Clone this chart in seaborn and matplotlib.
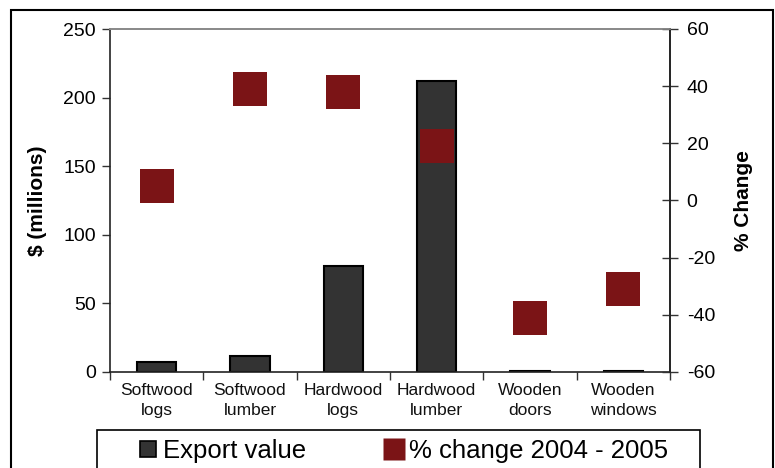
import numpy as np
import pandas as pd
import matplotlib
matplotlib.use("Agg")
import matplotlib.pyplot as plt
from matplotlib.lines import Line2D
from matplotlib.patches import Rectangle
from matplotlib.ticker import FixedLocator, NullFormatter
import seaborn as sns

categories = ["Softwood\nlogs", "Softwood\nlumber", "Hardwood\nlogs",
              "Hardwood\nlumber", "Wooden\ndoors", "Wooden\nwindows"]
export_value = [7.5, 12, 77, 212, 1, 1]
pct_change = [5, 39, 38, 19, -41, -31]
left_ticks = [0, 50, 100, 150, 200, 250]
right_ticks = [-60, -40, -20, 0, 20, 40, 60]

sns.set_theme(style="white")
plt.rcParams["font.family"] = ["Liberation Sans", "DejaVu Sans"]
plt.rcParams["axes.unicode_minus"] = False
plt.rcParams["text.color"] = "black"
plt.rcParams["axes.labelcolor"] = "black"
plt.rcParams["xtick.color"] = "black"
plt.rcParams["ytick.color"] = "black"

BAR = "#333333"
RED = "#7B1416"

df = pd.DataFrame({"cat": categories, "val": export_value, "pct": pct_change})
df["pos"] = np.arange(len(df))

fig = plt.figure(figsize=(7.75, 4.68), dpi=100)
ax = fig.add_axes([110/775, 1-372/468, 560/775, 343/468])

sns.barplot(data=df, x="cat", y="val", color=BAR, width=0.42, edgecolor="black",
            linewidth=1.5, saturation=1, ax=ax, zorder=2)
ax.set_ylim(0, 250)
ax.set_xlim(-0.5, len(categories) - 0.5)
ax.set_yticks(left_ticks)
ax.tick_params(axis="y", labelsize=14, length=6, width=1, direction="out",
               left=True, color="#333333", labelcolor="black", pad=4)
ax.set_xlabel("")
ax.set_ylabel("$ (millions)", fontsize=15, fontweight="bold", labelpad=12)
ax.tick_params(axis="x", which="major", length=0, labelsize=12.5, pad=8,
               labelcolor="#111111")
ax.xaxis.set_minor_locator(FixedLocator(np.arange(-0.5, len(categories), 1.0)))
ax.xaxis.set_minor_formatter(NullFormatter())
ax.tick_params(axis="x", which="minor", length=6, width=1, direction="out",
               bottom=True, color="#333333")
for lab in ax.get_xticklabels():
    lab.set_linespacing(1.4)

ax2 = ax.twinx()
sns.scatterplot(data=df, x="pos", y="pct", marker="s", s=24.5**2, color=RED,
                edgecolor="none", ax=ax2, zorder=3, legend=False)
ax2.set_ylim(-60, 60)
ax2.set_yticks(right_ticks)
ax2.tick_params(axis="y", labelsize=14, length=12, width=1, direction="inout",
                right=True, color="#333333", labelcolor="black", pad=6)
ax2.set_ylabel("% Change", fontsize=15, fontweight="bold", labelpad=14)
ax2.set_xlabel("")
ax.set_xlim(-0.5, len(categories) - 0.5)

for a in (ax, ax2):
    for name, sp in a.spines.items():
        sp.set_visible(True)
        sp.set_linewidth(1.2)
        sp.set_color("#222222")
    a.spines["top"].set_color("#888888")
    a.grid(False)
ax2.spines["left"].set_visible(False)
ax2.spines["bottom"].set_visible(False)

handles = [
    Line2D([], [], linestyle="none", marker="s", markersize=11.5,
           markerfacecolor=BAR, markeredgecolor="black", markeredgewidth=1.2),
    Line2D([], [], linestyle="none", marker="s", markersize=16,
           markerfacecolor=RED, markeredgecolor="none"),
]
leg = fig.legend(handles, ["Export value", "% change 2004 - 2005"],
                 loc="upper left", bbox_to_anchor=(135/775, 1-439/468),
                 ncol=2, fontsize=18.5, frameon=False,
                 borderaxespad=0, borderpad=0, handlelength=1.0,
                 handletextpad=0.1, columnspacing=2.9)

# legend box (extends past the bottom edge like the reference)
fig.patches.append(Rectangle((97/775, -0.05), 603/775, 0.05 + (468-430)/468,
                             transform=fig.transFigure, fill=False,
                             edgecolor="black", linewidth=1.2))
# outer chart border
fig.patches.append(Rectangle((11/775, -0.05), 762/775, 1.05 - 10/468,
                             transform=fig.transFigure, fill=False,
                             edgecolor="black", linewidth=1.5, zorder=-1))

fig.savefig("out.png", dpi=100)
